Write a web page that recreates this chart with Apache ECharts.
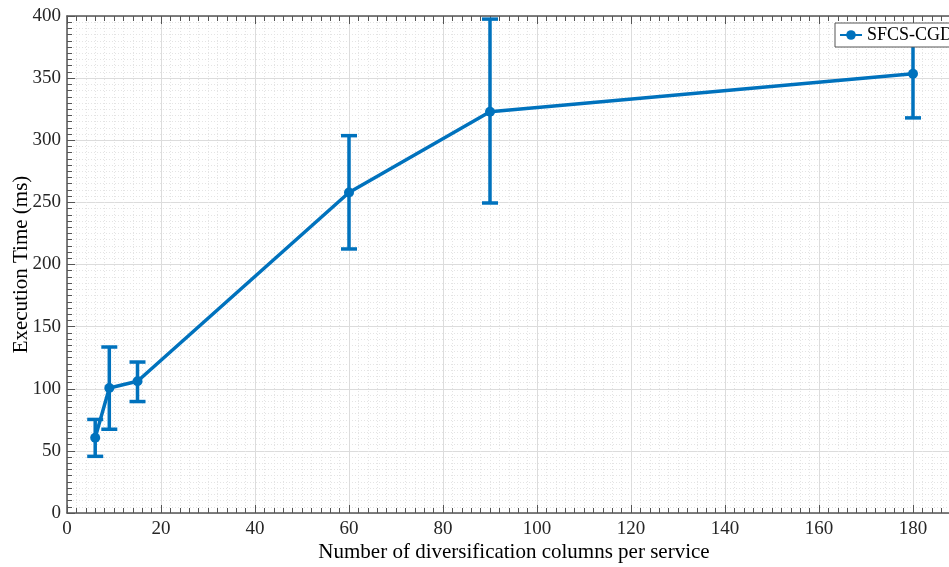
<!DOCTYPE html>
<html>
<head>
<meta charset="utf-8">
<script src="https://cdn.jsdelivr.net/npm/echarts@6/dist/echarts.min.js"></script>
<style>html,body{margin:0;padding:0;background:#fff}#c{width:949px;height:567px}</style>
</head>
<body>
<div id="c"></div>
<script>
const xValues = [6, 9, 15, 60, 90, 180];
const meanValues = [60.5, 100.6, 106, 258, 323, 353.5];
const lowerValues = [45.6, 67.4, 89.7, 212.5, 249.5, 318];
const upperValues = [75.3, 133.6, 121.5, 303.7, 397.5, 389];
const seriesName = 'SFCS-CGD';

const FONT = 'Liberation Serif';
const COLOR = '#0072BD';
const AX = '#555555';

const lineData = xValues.map((x, i) => [x, meanValues[i]]);
const errData = xValues.map((x, i) => [x, lowerValues[i], upperValues[i]]);

const chart = echarts.init(document.getElementById('c'));

const baseX = {
  type: 'value', min: 0, max: 200, interval: 20,
  axisLine: {show: true, onZero: false, lineStyle: {color: AX, width: 1.5}},
  axisTick: {show: true, inside: true, length: 8, lineStyle: {color: AX}},
  minorTick: {show: true, splitNumber: 10, length: 5, lineStyle: {color: AX}},
};

chart.setOption({
  animation: false,
  backgroundColor: '#ffffff',
  grid: {left: 67, top: 16, width: 940, height: 497, containLabel: false, outerBoundsMode: 'none'},
  legend: {
    show: true, left: 835, top: 23, orient: 'horizontal',
    data: [seriesName],
    backgroundColor: '#ffffff', borderColor: '#555', borderWidth: 1,
    padding: [3, 20, 3, 4], itemWidth: 22, itemHeight: 12, itemGap: 4,
    textStyle: {fontFamily: FONT, fontSize: 18, color: '#000'}
  },
  xAxis: [
    Object.assign({}, baseX, {
      position: 'bottom',
      name: 'Number of diversification columns per service',
      nameLocation: 'middle', nameGap: 29, nameMoveOverlap: false,
      nameTextStyle: {fontFamily: FONT, fontSize: 21, color: '#000', padding: [0, 46, 0, 0]},
      axisLabel: {show: true, margin: 7, fontFamily: FONT, fontSize: 19, color: '#262626'},
      splitLine: {show: true, lineStyle: {color: '#dcdcdc', width: 1}},
      minorSplitLine: {show: true, lineStyle: {color: '#e4e4e4', width: 1, type: [1, 2]}}
    }),
    Object.assign({}, baseX, {
      position: 'top',
      axisLabel: {show: false},
      splitLine: {show: false}
    })
  ],
  yAxis: [{
    type: 'value', min: 0, max: 400, interval: 50,
    name: 'Execution Time (ms)', nameLocation: 'middle', nameGap: 35, nameMoveOverlap: false,
    nameTextStyle: {fontFamily: FONT, fontSize: 21, color: '#000'},
    axisLine: {show: true, lineStyle: {color: AX, width: 1.5}},
    axisTick: {show: true, inside: true, length: 8, lineStyle: {color: AX}},
    minorTick: {show: true, splitNumber: 10, length: 5, lineStyle: {color: AX}},
    axisLabel: {show: true, margin: 6, fontFamily: FONT, fontSize: 19, color: '#262626'},
    splitLine: {show: true, lineStyle: {color: '#dcdcdc', width: 1}},
    minorSplitLine: {show: true, lineStyle: {color: '#e4e4e4', width: 1, type: [1, 2]}}
  }],
  series: [
    {
      name: seriesName, type: 'line', data: lineData,
      symbol: 'circle', symbolSize: 10, showAllSymbol: true,
      lineStyle: {color: COLOR, width: 3.5},
      itemStyle: {color: COLOR},
      z: 3
    },
    {
      name: 'err', type: 'custom', data: errData,
      encode: {x: 0, y: [1, 2]},
      renderItem: function (params, api) {
        const x = api.value(0);
        const lo = api.coord([x, api.value(1)]);
        const hi = api.coord([x, api.value(2)]);
        const w = 8;
        const style = {stroke: COLOR, lineWidth: 3.5, fill: null};
        return {
          type: 'group',
          children: [
            {type: 'line', shape: {x1: lo[0], y1: lo[1], x2: hi[0], y2: hi[1]}, style: style},
            {type: 'line', shape: {x1: lo[0] - w, y1: lo[1], x2: lo[0] + w, y2: lo[1]}, style: style},
            {type: 'line', shape: {x1: hi[0] - w, y1: hi[1], x2: hi[0] + w, y2: hi[1]}, style: style}
          ]
        };
      },
      z: 2
    }
  ]
});
</script>
</body>
</html>
